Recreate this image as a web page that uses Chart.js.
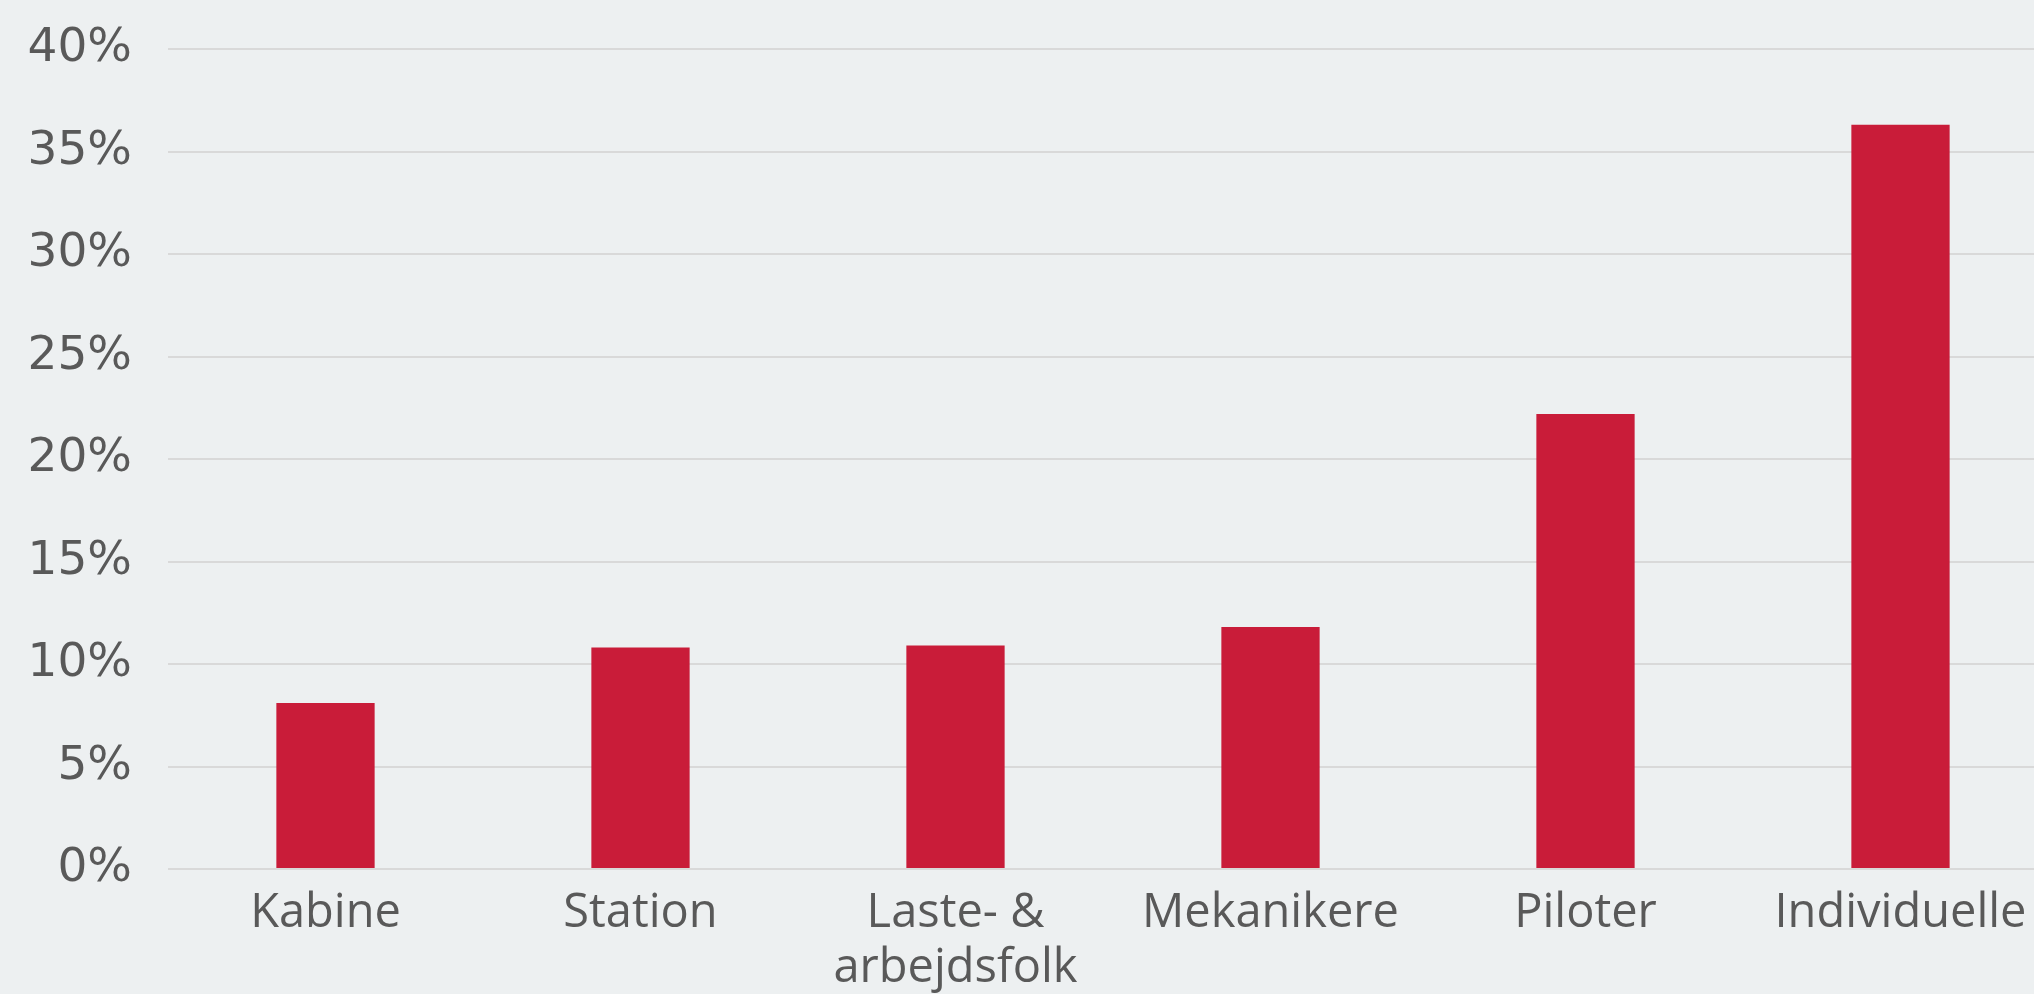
<!DOCTYPE html>
<html>
<head>
<meta charset="utf-8">
<script src="https://cdn.jsdelivr.net/npm/chart.js@4"></script>
<style>
  html, body { margin: 0; padding: 0; background: #edf0f1; overflow: hidden; }
  /* the reference's last category runs a little past the right edge */
  #wrap { width: 2058px; height: 994px; }
</style>
</head>
<body>
<div id="wrap"><canvas id="chart"></canvas></div>
<script>
// data
const categories = ["Kabine", "Station", ["Laste- &", "arbejdsfolk"], "Mekanikere", "Piloter", "Individuelle"];
const shares = [8.1, 10.8, 10.9, 11.8, 22.2, 36.3];
const yTicks = [0, 5, 10, 15, 20, 25, 30, 35, 40];

const textColor = "#595959";

const ctx = document.getElementById("chart").getContext("2d");

new Chart(ctx, {
  type: "bar",
  data: {
    labels: categories,
    datasets: [
      {
        label: "Andel",
        data: shares,
        backgroundColor: "#c91c39",
        borderWidth: 0,
        barPercentage: 0.312,
        categoryPercentage: 1,
      },
    ],
  },
  options: {
    responsive: true,
    maintainAspectRatio: false,
    animation: false,
    layout: {
      padding: { top: 49, right: 0, bottom: 0, left: 0 },
    },
    plugins: {
      legend: { display: false },
      tooltip: { enabled: false },
    },
    scales: {
      x: {
        grid: { display: false },
        border: { display: false },
        ticks: {
          color: textColor,
          padding: 9,
          maxRotation: 0,
          autoSkip: false,
          font: { family: "'Open Sans', sans-serif", size: 47, lineHeight: 1.17 },
        },
        afterFit: (scale) => {
          scale.height = 125;
        },
      },
      y: {
        min: 0,
        max: 40,
        afterBuildTicks: (scale) => {
          scale.ticks = yTicks.map((v) => ({ value: v }));
        },
        grid: {
          color: "#d9d9d9",
          lineWidth: 2,
          drawTicks: false,
        },
        border: { display: false },
        ticks: {
          color: textColor,
          padding: 36,
          font: { family: "'DejaVu Sans', sans-serif", size: 47, lineHeight: 1 },
          callback: (v) => v + "%",
        },
        afterFit: (scale) => {
          scale.width = 168;
          scale.paddingTop = 0;
        },
      },
    },
  },
});
</script>
</body>
</html>
